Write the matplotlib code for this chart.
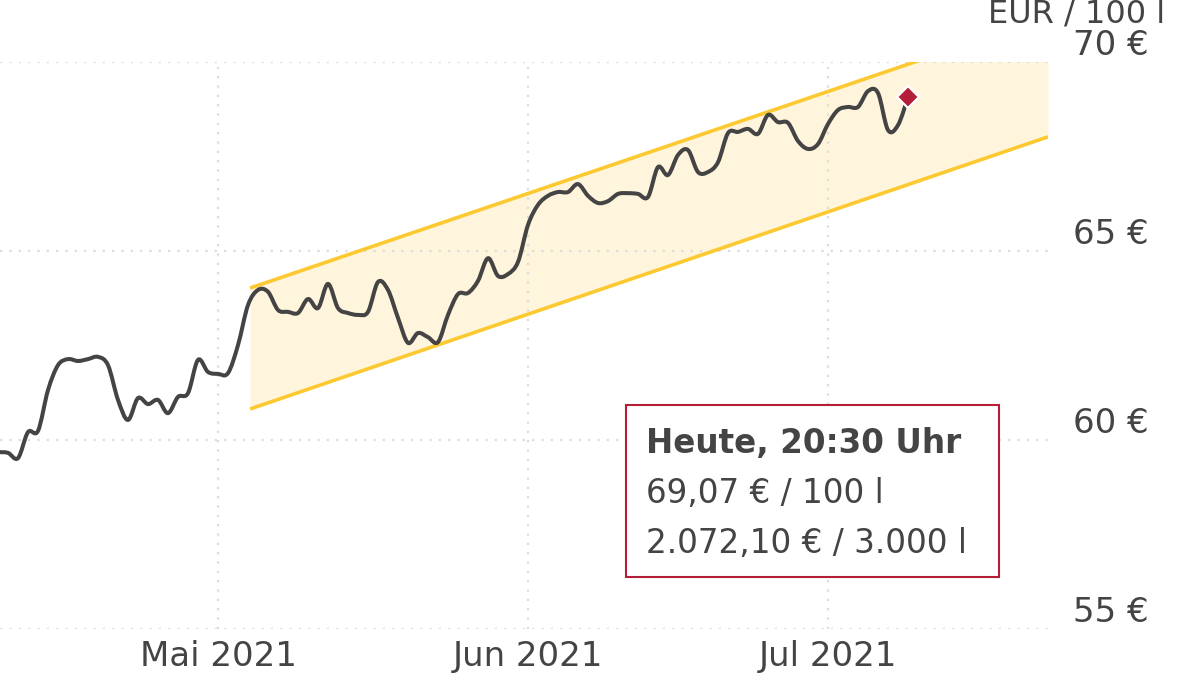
import matplotlib.pyplot as plt
import matplotlib.dates as mdates
from matplotlib.patches import Rectangle, PathPatch
from matplotlib.path import Path
import numpy as np
import pandas as pd

# Heizöl price, EUR per 100 l, daily
dates = pd.date_range("2021-04-09", "2021-07-09", freq="D")
prices = [
    59.68, 59.66, 59.52, 60.21, 60.24, 61.32, 61.98, 62.14, 62.09, 62.14, 62.20,
    61.98, 61.06, 60.53, 61.11, 60.95, 61.06, 60.71, 61.14, 61.24, 62.12, 61.80,
    # May
    61.75, 61.77, 62.51, 63.57, 63.97, 63.92, 63.44, 63.39, 63.36, 63.73, 63.49,
    64.13, 63.49, 63.36, 63.31, 63.39, 64.18, 63.97, 63.23, 62.57, 62.83, 62.72,
    62.59, 63.31, 63.86, 63.89, 64.21, 64.81, 64.34, 64.39, 64.71,
    # June
    65.69, 66.22, 66.46, 66.56, 66.56, 66.77, 66.46, 66.27, 66.32, 66.51, 66.53,
    66.51, 66.43, 67.22, 67.01, 67.54, 67.67, 67.09, 67.09, 67.35, 68.12, 68.15,
    68.23, 68.10, 68.60, 68.41, 68.39, 67.91, 67.70, 67.83,
    # July
    68.36, 68.73, 68.81, 68.81, 69.23, 69.18, 68.20, 68.33, 69.07,
]

# trend channel
channel_dates = pd.to_datetime(["2021-05-04 05:00", "2021-07-23 00:00"])
channel_upper = [64.02, 71.20]
channel_lower = [60.82, 68.02]

y_ticks = [55, 60, 65, 70]
month_ticks = pd.to_datetime(["2021-05-01", "2021-06-01", "2021-07-01"])
month_labels = ["Mai 2021", "Jun 2021", "Jul 2021"]

info_lines = ["Heute, 20:30 Uhr", "69,07 € / 100 l", "2.072,10 € / 3.000 l"]

txt = "#444444"
yellow = "#fcc930"
red = "#b41f37"


def smooth_path(x, y):
    # catmull-rom segments drawn as cubic bezier curves through the points
    p = np.column_stack([x, y])
    pp = np.vstack([p[0], p, p[-1]])
    verts = [p[0]]
    codes = [Path.MOVETO]
    for i in range(1, len(pp) - 2):
        c1 = pp[i] + (pp[i + 1] - pp[i - 1]) / 6
        c2 = pp[i + 1] - (pp[i + 2] - pp[i]) / 6
        verts += [c1, c2, pp[i + 1]]
        codes += [Path.CURVE4] * 3
    return Path(verts, codes)


plt.rcParams['font.family'] = ['DejaVu Sans']

fig = plt.figure(figsize=(12, 6.88), dpi=100)
ax = fig.add_axes([0, 59 / 688, 1048 / 1200, 567 / 688])

ax.fill_between(channel_dates, channel_lower, channel_upper, color="#fff5dd", lw=0, zorder=1)
ax.plot(channel_dates, channel_upper, color=yellow, lw=2.6, solid_capstyle="butt", zorder=2)
ax.plot(channel_dates, channel_lower, color=yellow, lw=2.6, solid_capstyle="butt", zorder=2)

xnum = mdates.date2num(dates)
ax.add_patch(PathPatch(smooth_path(xnum, prices), facecolor="none", edgecolor="#444444",
                       lw=2.9, joinstyle="round", capstyle="round", zorder=3))
ax.plot(dates[-1:], prices[-1:], marker="D", ms=11.5, color=red, mec="white", mew=1.6,
        linestyle="none", zorder=4)

ax.set_ylim(55, 70)
ax.set_xlim(pd.Timestamp("2021-04-09 04:48"), pd.Timestamp("2021-07-23"))

ax.set_yticks(y_ticks)
ax.set_yticklabels([f"{v} €" for v in y_ticks])
ax.yaxis.tick_right()
ax.set_xticks(month_ticks)
ax.set_xticklabels(month_labels)
ax.tick_params(axis="both", length=0, labelsize=24.5, colors=txt)
ax.tick_params(axis="y", pad=18)
ax.tick_params(axis="x", pad=8)
for lab in ax.get_yticklabels():
    lab.set_verticalalignment("bottom")

ax.grid(True, color="#dcdcdc", linestyle=(0, (1, 3.2)), lw=1.6)
for s in ax.spines.values():
    s.set_visible(False)

fig.text(1165 / 1200, 1 - 23 / 688, "EUR / 100 l", ha="right", va="baseline",
         fontsize=23, color=txt)

# info box
fig.patches.append(Rectangle((626 / 1200, 1 - 577 / 688), 373 / 1200, 172 / 688,
                             transform=fig.transFigure, facecolor="white",
                             edgecolor=red, lw=1.5, zorder=5))
fig.text(646 / 1200, 1 - 453 / 688, info_lines[0], fontsize=23.5, fontweight="bold",
         color=txt, va="baseline", zorder=6)
fig.text(646 / 1200, 1 - 503 / 688, info_lines[1], fontsize=23.5, color=txt,
         va="baseline", zorder=6)
fig.text(646 / 1200, 1 - 553 / 688, info_lines[2], fontsize=23.5, color=txt,
         va="baseline", zorder=6)

fig.savefig("out.png", dpi=100)
